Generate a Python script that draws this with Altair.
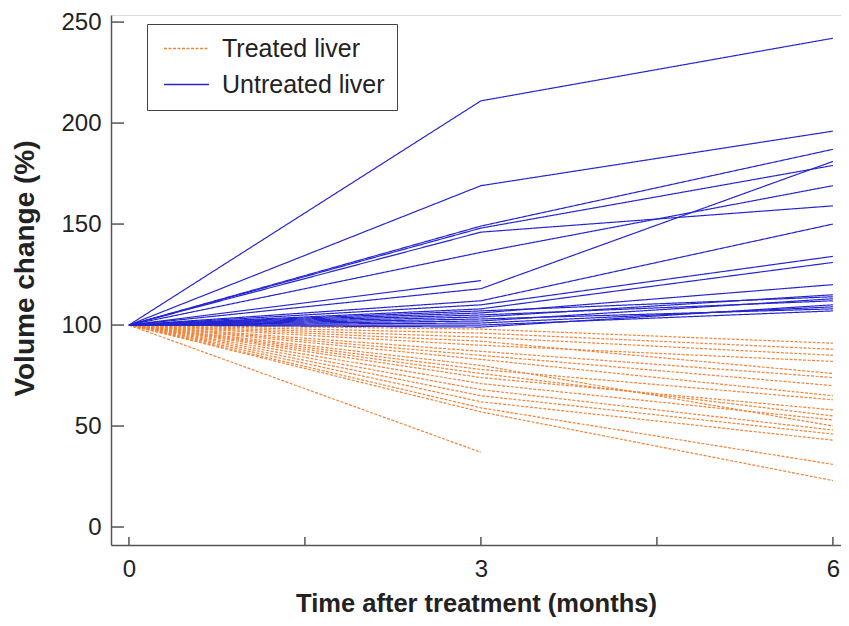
import altair as alt
import pandas as pd

# ---- data ----
months = [0, 3, 6]
baseline = 100  # every liver starts at 100 % at month 0

# Untreated liver: volume change (%) at 3 and 6 months (None = not measured)
untreated_3 = [211, 169, 149, 148, 146, 136, 118, 122, 112, 110, 108, 106, 104, 102, 105, 101, 103, 100, 107, 99]
untreated_6 = [242, 196, 187, 179, 159, 169, 181, None, 150, 134, 131, 120, 115, 113, 112, 109, 108, 107, 114, 110]

# Treated liver
treated_3 = [98, 96, 94, 92, 90, 87, 85, 83, 80, 78, 76, 74, 71, 68, 65, 62, 59, 57, 37]
treated_6 = [91, 88, 85, 76, 82, 74, 70, 65, 50, 63, 55, 58, 53, 48, 46, 43, 31, 23, None]

groups = ["Treated liver", "Untreated liver"]
colors = ["#f0843a", "#2626d0"]
dashes = [[3, 1.5], [1, 0]]

y_ticks = [0, 50, 100, 150, 200, 250]
x_ticks = [0, 1.5, 3, 4.5, 6]
x_labels = [0, 3, 6]

y_domain = [-8.9, 253.5]
x_domain = [-0.153, 6.069]


def build(group, v3, v6, prefix):
    rows = []
    for i, (a, b) in enumerate(zip(v3, v6)):
        pid = f"{prefix}{i}"
        for m, v in zip(months, [baseline, a, b]):
            if v is not None:
                rows.append({"id": pid, "group": group, "month": m, "value": v})
    return rows


treated_df = pd.DataFrame(build(groups[0], treated_3, treated_6, "T"))
untreated_df = pd.DataFrame(build(groups[1], untreated_3, untreated_6, "U"))

FONT = "Liberation Sans"
AX = "#555555"

x_enc = alt.X(
    "month:Q",
    scale=alt.Scale(domain=x_domain, nice=False, zero=False),
    axis=alt.Axis(
        values=x_labels, format="d", ticks=False, grid=False, domainColor=AX, domainWidth=1.5,
        labelFontSize=24, labelPadding=12, labelColor="#222", labelFont=FONT,
        title="Time after treatment (months)", titleFontSize=25.5, titleFont=FONT,
        titleFontWeight="bold", titleColor="#222", titlePadding=10,
    ),
)
y_enc = alt.Y(
    "value:Q",
    scale=alt.Scale(domain=y_domain, nice=False, zero=False),
    axis=alt.Axis(
        values=y_ticks, ticks=False, grid=False, domainColor=AX, domainWidth=1.5,
        labelFontSize=24, labelPadding=10, labelColor="#222", labelFont=FONT,
        title="Volume change (%)", titleFontSize=28, titleFont=FONT,
        titleFontWeight="bold", titleColor="#222", titlePadding=21, titleY=253,
    ),
)

legend_kw = dict(
    title=None, orient="none", legendX=36, legendY=9,
    symbolType="M-1,0H5", symbolSize=225, symbolStrokeWidth=1.5,
    labelOffset=38, labelFontSize=25, labelFont=FONT, labelColor="#222",
    labelLimit=400, padding=12, rowPadding=10, strokeColor="#444", fillColor="white",
)

color_enc = alt.Color(
    "group:N",
    scale=alt.Scale(domain=groups, range=colors),
    legend=alt.Legend(**legend_kw),
)
dash_enc = alt.StrokeDash(
    "group:N",
    scale=alt.Scale(domain=groups, range=dashes),
    legend=alt.Legend(**legend_kw),
)

treated = alt.Chart(treated_df).mark_line(strokeWidth=1.2).encode(
    x=x_enc, y=y_enc, color=color_enc, strokeDash=dash_enc, detail="id:N",
    order="month:Q",
)
untreated = alt.Chart(untreated_df).mark_line(strokeWidth=1.2).encode(
    x=x_enc, y=y_enc, color=color_enc, strokeDash=dash_enc, detail="id:N",
    order="month:Q",
)

# inward-pointing ticks
yt = alt.Chart(pd.DataFrame({"v": y_ticks})).mark_rule(color=AX, strokeWidth=1.5).encode(
    y=alt.Y("v:Q", scale=alt.Scale(domain=y_domain, nice=False, zero=False)),
    x=alt.value(0), x2=alt.value(13),
)
xt = alt.Chart(pd.DataFrame({"m": x_ticks})).mark_rule(color=AX, strokeWidth=1.5).encode(
    x=alt.X("m:Q", scale=alt.Scale(domain=x_domain, nice=False, zero=False)),
    y=alt.value(530), y2=alt.value(522),
)

chart = alt.layer(treated, untreated, yt, xt).properties(
    width=730, height=530,
    autosize=alt.AutoSizeParams(type="none"),
    padding={"left": 103, "top": 7, "right": 0, "bottom": 72},
).configure_view(stroke=None).configure(background="white")

chart.save("out.html", embed_options={"renderer": "svg", "actions": False})
